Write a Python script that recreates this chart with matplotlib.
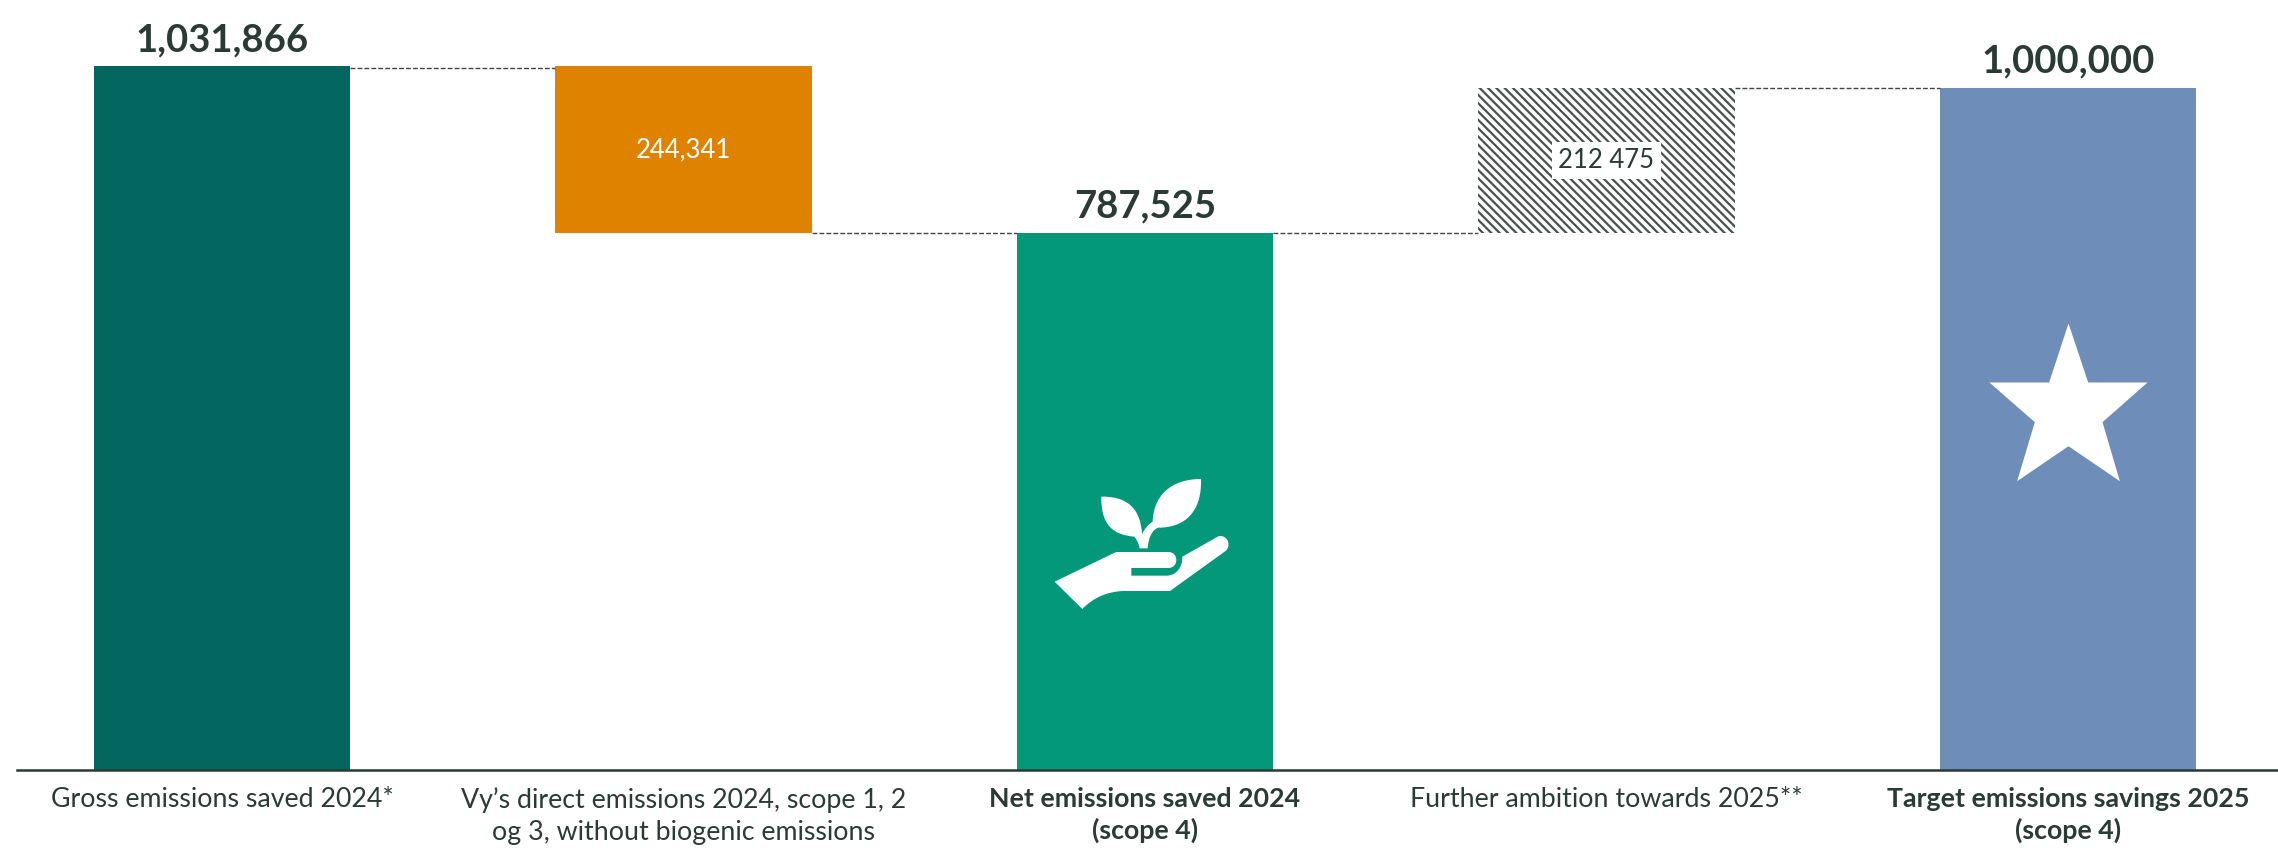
import matplotlib
matplotlib.use("Agg")
import matplotlib.pyplot as plt
from matplotlib.path import Path
from matplotlib.patches import PathPatch
from matplotlib.transforms import Affine2D

plt.rcParams['font.family'] = ['Lato', 'DejaVu Sans']
plt.rcParams['hatch.linewidth'] = 1.6

categories = [
    "Gross emissions saved 2024*",
    "Vy\u2019s direct emissions 2024, scope 1, 2\nog 3, without biogenic emissions",
    "Net emissions saved 2024\n(scope 4)",
    "Further ambition towards 2025**",
    "Target emissions savings 2025\n(scope 4)",
]
heights = [1031866, 244341, 787525, 212475, 1000000]
bottoms = [0, 787525, 0, 787525, 0]
value_labels = ["1,031,866", "244,341", "787,525", "212 475", "1,000,000"]
colors = ["#03665F", "#DF8200", "#029879", "white", "#6F8DB9"]
bold_category = [False, False, True, False, True]
ink = "#2A3A35"

W, H = 2278, 848
fig = plt.figure(figsize=(W / 100, H / 100), dpi=100)
ax = fig.add_axes([17 / W, 78 / H, (W - 17) / W, 770 / H])
ax.set_xlim(-0.444, 4.455)
ax.set_ylim(0, 1129000)
ax.patch.set_alpha(0)

x = list(range(len(categories)))
bars = ax.bar(x, heights, width=0.555, bottom=bottoms, color=colors, linewidth=0)

# the ambition step is hatched, not filled
bars[3].set_edgecolor("#4a504e")
bars[3].set_hatch("\\\\\\\\")

# dashed connectors between neighbouring bars
half = 0.555 / 2
for i in range(len(x) - 1):
    level = bottoms[i] + heights[i] if i != 1 else bottoms[i]
    level = level if i != 0 else level - 2500
    ax.plot([x[i] + half, x[i + 1] - half], [level, level], color="#444444",
            lw=1.0, ls=(0, (3.5, 1.5)), zorder=1)

# totals above the bars, steps inside them
for i in [0, 2, 4]:
    ax.annotate(value_labels[i], (x[i], bottoms[i] + heights[i]), xytext=(0, 6.5),
                textcoords="offset points", ha="center", va="bottom",
                fontsize=27.5, fontweight="bold", color=ink)
ax.text(x[1], bottoms[1] + heights[1] / 2, value_labels[1], ha="center", va="center",
        fontsize=18.5, color="white")
ax.text(x[3], bottoms[3] + heights[3] / 2, value_labels[3], ha="center", va="center",
        fontsize=18.5, color=ink,
        bbox=dict(facecolor="white", edgecolor="none", boxstyle="square,pad=0.25"), zorder=4)

# star outline around its own centre, y up
star_verts = [(0, 237), (59, 60), (237, 60), (102, -59), (154, -236), (0, -131),
              (-154, -236), (-101, -59), (-237, 60), (-58, 60), (0, 237)]
star = Path(star_verts, closed=True)
ax.plot([x[4]], [539100], marker=star, ms=113.8, color="white", mew=0, zorder=4)

# hand and sprout icon, drawn on a 3x pixel grid then placed over the net bar
M, L, C, Z = Path.MOVETO, Path.LINETO, Path.CURVE4, Path.CLOSEPOLY
hand = [
    (M, (314, 455)), (L, (490, 370)), (C, (494, 368)), (C, (497, 366)), (C, (503, 366)),
    (L, (655, 366)), (C, (687, 366)), (C, (687, 414)), (C, (655, 414)),
    (L, (544, 414)), (L, (544, 437)), (L, (650, 437)),
    (C, (680, 437)), (C, (698, 410)), (C, (697, 380)),
    (L, (803, 320)), (C, (825, 310)), (C, (848, 340)), (C, (828, 362)),
    (L, (660, 483)), (L, (520, 483)), (C, (470, 485)), (C, (430, 503)), (C, (397, 537)),
    (Z, (314, 455)),
]
sprout = [
    (M, (454, 200)), (C, (530, 198)), (C, (572, 235)), (C, (576, 312)),
    (C, (585, 295)), (C, (595, 283)), (C, (608, 275)),
    (C, (610, 200)), (C, (660, 147)), (C, (753, 147)),
    (C, (756, 240)), (C, (710, 293)), (C, (625, 293)),
    (C, (605, 300)), (C, (595, 325)), (C, (593, 355)),
    (L, (569, 355)), (C, (566, 340)), (C, (560, 328)), (C, (553, 320)),
    (C, (490, 315)), (C, (452, 285)), (C, (454, 200)), (Z, (454, 200)),
]
icon_to_px = Affine2D().scale(1 / 3, -1 / 3).translate(950, H - 430)
for shape in [hand, sprout]:
    codes = [s[0] for s in shape]
    verts = [s[1] for s in shape]
    ax.add_patch(PathPatch(Path(verts, codes), facecolor="white", edgecolor="none",
                           transform=icon_to_px, zorder=4))

ax.set_xticks(x)
ax.set_xticklabels(categories, fontsize=19.3, color=ink, linespacing=1.32)
for lab, b in zip(ax.get_xticklabels(), bold_category):
    if b:
        lab.set_fontweight("bold")
ax.tick_params(axis="x", length=0, pad=12.5)
ax.set_yticks([])
for side in ["top", "left", "right"]:
    ax.spines[side].set_visible(False)
ax.spines["bottom"].set_color(ink)
ax.spines["bottom"].set_linewidth(1.8)

fig.savefig("out.png", dpi=100, facecolor="white")
